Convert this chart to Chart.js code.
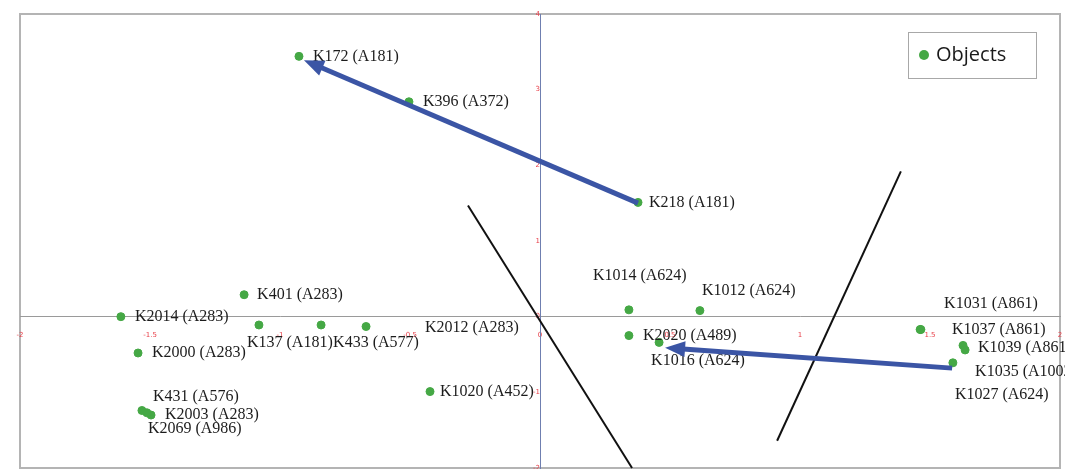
<!DOCTYPE html>
<html>
<head>
<meta charset="utf-8">
<script src="https://cdn.jsdelivr.net/npm/chart.js@4.4.1/dist/chart.umd.min.js"></script>
<style>
  html, body { margin: 0; padding: 0; background: #ffffff; }
  #wrap { width: 1065px; height: 469px; position: relative; }
</style>
</head>
<body>
<div id="wrap"><canvas id="c" width="1065" height="469"></canvas></div>
<script>
// Object names and their coordinates on the two factor axes
const objectNames = [
  'K172 (A181)', 'K396 (A372)', 'K218 (A181)', 'K1014 (A624)', 'K1012 (A624)',
  'K2020 (A489)', 'K1016 (A624)', 'K401 (A283)', 'K2014 (A283)', 'K137 (A181)',
  'K433 (A577)', 'K2012 (A283)', 'K2000 (A283)', 'K431 (A576)', 'K2003 (A283)',
  'K2069 (A986)', 'K1020 (A452)', 'K1031 (A861)', 'K1037 (A861)', 'K1039 (A861)',
  'K1035 (A1002)', 'K1027 (A624)'
];
const xValues = [
  -0.927, -0.504, 0.377, 0.342, 0.615,
  0.342, 0.458, -1.138, -1.612, -1.081,
  -0.842, -0.669, -1.546, -1.531, -1.496,
  -1.512, -0.423, 1.462, 1.465, 1.627,
  1.635, 1.588
];
const yValues = [
  3.44, 2.84, 1.51, 0.09, 0.08,
  -0.25, -0.34, 0.29, 0.00, -0.11,
  -0.11, -0.13, -0.48, -1.24, -1.30,
  -1.27, -0.99, -0.17, -0.17, -0.38,
  -0.44, -0.61
];

// Movement arrows (from -> to) in axis units
const arrowFromX = [0.377, 1.585];
const arrowFromY = [1.50, -0.68];
const arrowToX = [-0.908, 0.481];
const arrowToY = [3.39, -0.41];

// Separating lines (start -> end) in axis units
const lineStartX = [-0.277, 1.388];
const lineStartY = [1.47, 1.92];
const lineEndX = [0.354, 0.912];
const lineEndY = [-2.0, -1.64];

// Tick settings
const xTickStep = 0.5;
const yTickStep = 1;

// Label placement relative to each point (pixels, left-middle of the text)
const labelOffsets = [
  [14, 0], [14, 0], [11, 0], [-36, -34], [2, -20],
  [14, 0], [-8, 18], [13, 0], [14, 0], [-12, 18],
  [12, 18], [59, 1], [14, 0], [11, -14], [14, 0],
  [1, 16], [10, 0], [24, -26], [31, 0], [15, 2],
  [10, 22], [2, 32]
];

const GREEN = '#45a845';
const ARROW_BLUE = '#3b55a5';

const points = xValues.map((x, i) => ({ x: x, y: yValues[i] }));

const framePlugin = {
  id: 'frame',
  beforeDraw(chart) {
    const { ctx, chartArea: a } = chart;
    ctx.save();
    ctx.fillStyle = '#ffffff';
    ctx.fillRect(0, 0, chart.width, chart.height);
    ctx.strokeStyle = '#b4b4b4';
    ctx.lineWidth = 2;
    ctx.strokeRect(a.left, a.top, a.right - a.left, a.bottom - a.top);
    ctx.restore();
  }
};

const overlayPlugin = {
  id: 'overlay',
  afterDatasetsDraw(chart) {
    const { ctx } = chart;
    const xs = chart.scales.x, ys = chart.scales.y;
    const a = chart.chartArea;

    // separating lines
    ctx.save();
    ctx.beginPath();
    ctx.rect(a.left, a.top, a.right - a.left, chart.height - a.top);
    ctx.clip();
    ctx.strokeStyle = '#111111';
    ctx.lineWidth = 2;
    for (let i = 0; i < lineStartX.length; i++) {
      ctx.beginPath();
      ctx.moveTo(xs.getPixelForValue(lineStartX[i]), ys.getPixelForValue(lineStartY[i]));
      ctx.lineTo(xs.getPixelForValue(lineEndX[i]), ys.getPixelForValue(lineEndY[i]));
      ctx.stroke();
    }
    ctx.restore();

    // labels
    ctx.save();
    ctx.font = '16px "Liberation Serif", "DejaVu Serif", serif';
    ctx.fillStyle = '#1c1c1c';
    ctx.textAlign = 'left';
    ctx.textBaseline = 'middle';
    objectNames.forEach((name, i) => {
      const px = xs.getPixelForValue(xValues[i]);
      const py = ys.getPixelForValue(yValues[i]);
      ctx.fillText(name, px + labelOffsets[i][0], py + labelOffsets[i][1]);
    });
    ctx.restore();

    // arrows
    ctx.save();
    ctx.strokeStyle = ARROW_BLUE;
    ctx.fillStyle = ARROW_BLUE;
    ctx.lineWidth = 5;
    ctx.lineCap = 'butt';
    for (let i = 0; i < arrowFromX.length; i++) {
      const x1 = xs.getPixelForValue(arrowFromX[i]);
      const y1 = ys.getPixelForValue(arrowFromY[i]);
      const x2 = xs.getPixelForValue(arrowToX[i]);
      const y2 = ys.getPixelForValue(arrowToY[i]);
      const ang = Math.atan2(y2 - y1, x2 - x1);
      const headLen = 20, headW = 8;
      const bx = x2 - headLen * Math.cos(ang);
      const by = y2 - headLen * Math.sin(ang);
      ctx.beginPath();
      ctx.moveTo(x1, y1);
      ctx.lineTo(bx + 2 * Math.cos(ang), by + 2 * Math.sin(ang));
      ctx.stroke();
      ctx.beginPath();
      ctx.moveTo(x2, y2);
      ctx.lineTo(bx + headW * Math.sin(ang), by - headW * Math.cos(ang));
      ctx.lineTo(bx - headW * Math.sin(ang), by + headW * Math.cos(ang));
      ctx.closePath();
      ctx.fill();
    }
    ctx.restore();
  },
  afterDraw(chart) {
    // legend box
    const { ctx } = chart;
    ctx.save();
    ctx.strokeStyle = '#a8a8a8';
    ctx.lineWidth = 1;
    ctx.strokeRect(908.5, 32.5, 128, 46);
    ctx.fillStyle = GREEN;
    ctx.beginPath();
    ctx.arc(924, 55, 5, 0, Math.PI * 2);
    ctx.fill();
    ctx.fillStyle = '#1a1a1a';
    ctx.font = '20px "Open Sans", "Noto Sans", sans-serif';
    ctx.textAlign = 'left';
    ctx.textBaseline = 'middle';
    ctx.fillText('Objects', 936, 55);
    ctx.restore();
  }
};

const plainTick = (value) => String(value);
// tick labels may overhang the plot frame; don't let them shrink it
const noOverhang = (scale) => {
  scale.paddingLeft = 0;
  scale.paddingRight = 0;
  scale.paddingTop = 0;
  scale.paddingBottom = 0;
};

new Chart(document.getElementById('c'), {
  type: 'scatter',
  data: {
    datasets: [{
      label: 'Objects',
      data: points,
      backgroundColor: GREEN,
      borderColor: GREEN,
      pointRadius: 4,
      pointHoverRadius: 4
    }]
  },
  options: {
    responsive: false,
    animation: false,
    events: [],
    layout: { autoPadding: false, padding: { left: 20, right: 5, top: 14, bottom: 1 } },
    plugins: { legend: { display: false }, tooltip: { enabled: false } },
    scales: {
      x: {
        type: 'linear',
        axis: 'x',
        position: { y: 0 },
        min: -2, max: 2,
        afterFit: noOverhang,
        grid: { display: false },
        border: { display: true, color: '#9a9a9a', width: 1, dash: [4, 3] },
        ticks: {
          stepSize: xTickStep, autoSkip: false, maxRotation: 0, callback: plainTick,
          color: '#e8404a', font: { size: 7, family: 'DejaVu Sans' }, padding: 6
        }
      },
      y: {
        type: 'linear',
        axis: 'y',
        position: { x: 0 },
        min: -2, max: 4,
        afterFit: noOverhang,
        grid: { display: false },
        border: { display: true, color: '#6f7fb0', width: 1, dash: [3, 2] },
        ticks: {
          stepSize: yTickStep, autoSkip: false, callback: plainTick,
          color: '#e8404a', font: { size: 7, family: 'DejaVu Sans' }, padding: 6
        }
      }
    }
  },
  plugins: [framePlugin, overlayPlugin]
});
</script>
</body>
</html>
